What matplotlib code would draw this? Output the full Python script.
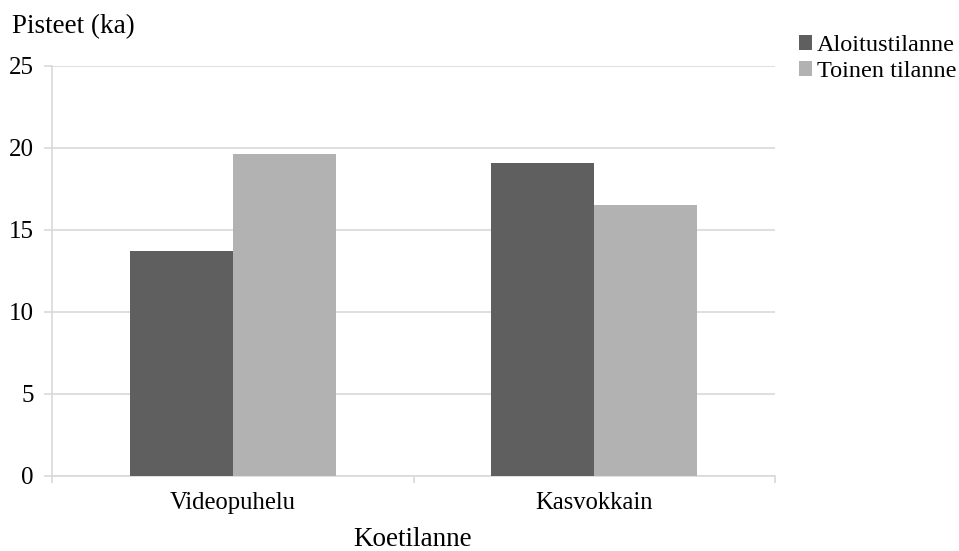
import numpy as np
import matplotlib.pyplot as plt

plt.rcParams['font.family'] = ['Liberation Serif', 'DejaVu Serif']

categories = ['Videopuhelu', 'Kasvokkain']
series_names = ['Aloitustilanne', 'Toinen tilanne']
aloitus = [13.7, 19.1]
toinen = [19.6, 16.5]
colors = ['#5f5f5f', '#b2b2b2']

fig = plt.figure(figsize=(9.59, 5.51), dpi=100)
ax = fig.add_axes([52 / 959, 1 - 475.5 / 551, (775 - 52) / 959, (475.5 - 66) / 551])

x = np.arange(len(categories))
w = 0.285
ax.bar(x - w / 2, aloitus, w, color=colors[0], label=series_names[0], zorder=3)
ax.bar(x + w / 2, toinen, w, color=colors[1], label=series_names[1], zorder=3)

ax.set_xlim(-0.5, 1.5)
ax.set_ylim(0, 25)
ax.set_yticks(np.arange(0, 26, 5))
ax.yaxis.grid(True, color='#d9d9d9', linewidth=1.2, zorder=0)

# category ticks between the groups
ax.set_xticks([-0.5, 0.5, 1.5], minor=False)
ax.set_xticklabels([])
ax.set_xticks(x, minor=True)
ax.set_xticklabels(categories, minor=True, fontsize=17.7)
ax.tick_params(axis='x', which='minor', length=0, pad=12)
ax.tick_params(axis='x', which='major', length=5, color='#d9d9d9', width=1.2)
ax.tick_params(axis='y', length=6, color='#d9d9d9', width=1.2, labelsize=18, pad=7)

for side in ['top', 'right']:
    ax.spines[side].set_visible(False)
for side in ['left', 'bottom']:
    ax.spines[side].set_color('#d9d9d9')
    ax.spines[side].set_linewidth(1.2)

fig.text(12 / 959, 1 - 27 / 551, 'Pisteet (ka)', fontsize=19.5, va='center', ha='left')
fig.text(413 / 959, 1 - 540 / 551, 'Koetilanne', fontsize=19.5, va='center', ha='center')

fig.legend(loc='upper left', bbox_to_anchor=(799 / 959, 1 - 35 / 551), frameon=False,
           fontsize=17.5, handlelength=0.55, handleheight=0.55, handletextpad=0.2,
           labelspacing=0.2, borderaxespad=0, borderpad=0)

fig.savefig('out.png', dpi=100)
